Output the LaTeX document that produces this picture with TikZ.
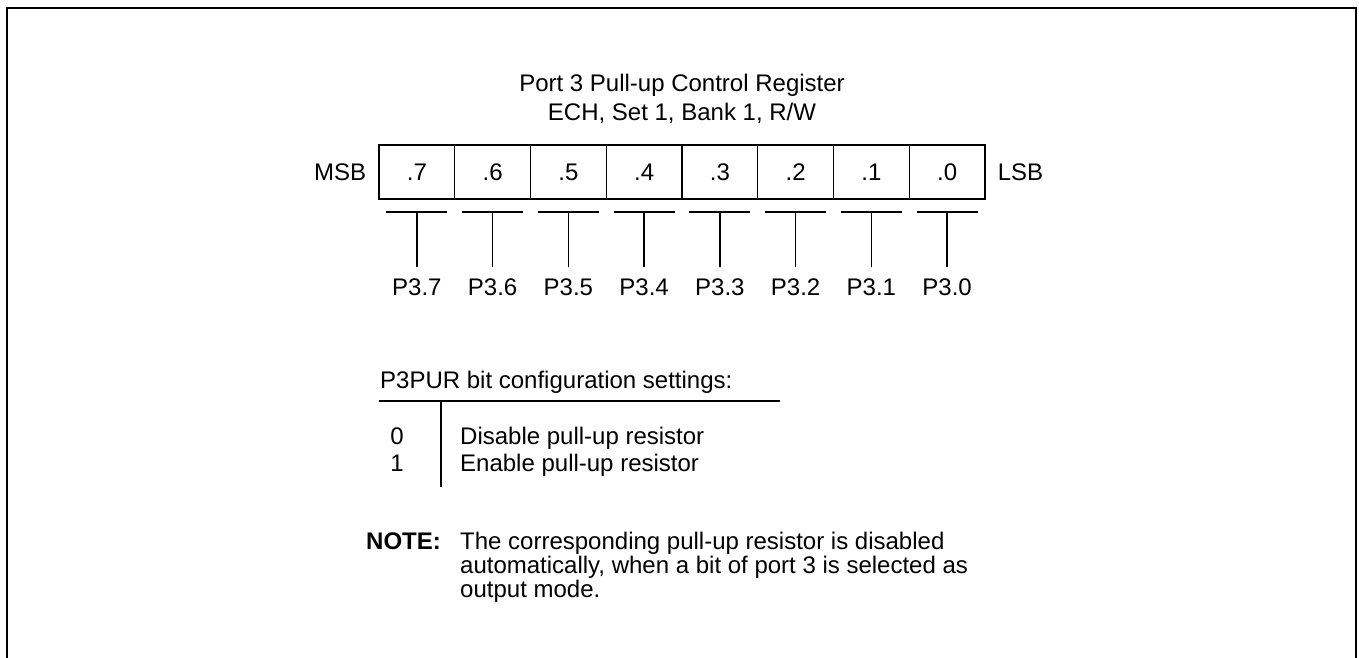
\documentclass[tikz,border=0pt]{standalone}
\usepackage{fontspec}
\setmainfont{Liberation Sans}
\begin{document}
\begin{tikzpicture}[x=1pt,y=-1pt,
  every node/.style={font=\fontsize{24}{28}\selectfont, inner sep=0pt},
  cell/.style={draw, line width=1.3pt, minimum width=75.75pt, minimum height=54pt},
  thinline/.style={line width=1.3pt},
  frame/.style={line width=2.4pt}]
\useasboundingbox (0,0) rectangle (1359,657);
\coordinate (fa) at (7,670);
\coordinate (fb) at (7,8);
\coordinate (fc) at (1356,8);
\coordinate (fd) at (1356,670);
\draw[frame] (fa) -- (fb) -- (fc) -- (fd);

\node[anchor=base] (title1) at (682,91) {Port 3 Pull-up Control Register};
\node[anchor=base] (title2) at (682,120) {ECH, Set 1, Bank 1, R/W};

\foreach \b in {7,6,5,4,3,2,1,0}{
  \pgfmathsetmacro\cx{379+75.75*(7.5-\b)}
  \node[cell] (c\b) at (\cx,172) {.\b};
  \coordinate (t\b) at (\cx,212);
  \coordinate (e\b) at (\cx,267);
  \node[anchor=base] (p\b) at (\cx,295) {P3.\b};
  \draw[thinline] ([xshift=-30.5pt]t\b) -- ([xshift=30.5pt]t\b);
  \draw[thinline] (t\b) -- (e\b);
}
\node[anchor=east] (msb) at ([xshift=-12pt]c7.west) {MSB};
\node[anchor=west] (lsb) at ([xshift=12pt]c0.east) {LSB};

\node[anchor=base west] (cfg) at (380,388) {P3PUR bit configuration settings:};
\coordinate (hl) at (379,401);
\coordinate (hr) at (780,401);
\coordinate (vt) at (441,401);
\coordinate (vb) at (441,487);
\draw[thinline] (hl) -- (hr);
\draw[thinline] (vt) -- (vb);
\node[anchor=base] (v0) at (397,444) {0};
\node[anchor=base west] (d0) at (460,444) {Disable pull-up resistor};
\node[anchor=base] (v1) at (397,471) {1};
\node[anchor=base west] (d1) at (460,471) {Enable pull-up resistor};

\node[anchor=base west, font=\fontsize{24}{28}\selectfont\bfseries] (note) at (366,549) {NOTE:};
\node[anchor=base west] (n1) at (460,549) {The corresponding pull-up resistor is disabled};
\node[anchor=base west] (n2) at (460,573) {automatically, when a bit of port 3 is selected as};
\node[anchor=base west] (n3) at (460,597) {output mode.};
\end{tikzpicture}
\end{document}
